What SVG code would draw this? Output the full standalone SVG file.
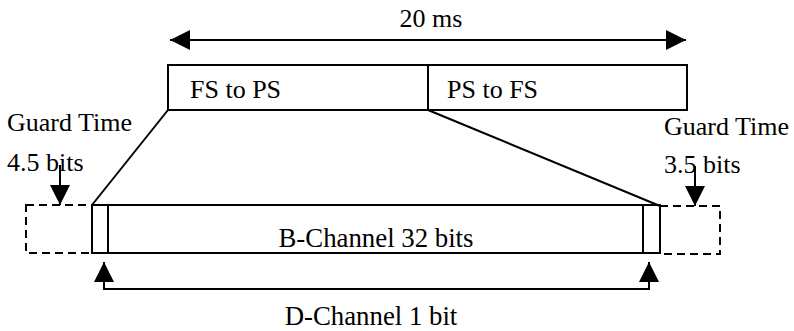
<svg xmlns="http://www.w3.org/2000/svg" width="794" height="331" viewBox="0 0 794 331">
  <style>
    .t { font-family: "Liberation Serif", "Times New Roman", serif; font-size: 26px; fill: #000; }
    .big { font-size: 26.8px; }
    .ln { stroke: #000; stroke-width: 2; fill: none; }
    .box { stroke: #000; stroke-width: 2; fill: #fff; }
    .dash { stroke: #000; stroke-width: 2; fill: none; stroke-dasharray: 8 5; }
  </style>
  <defs>
    <marker id="head" viewBox="0 0 20 20" refX="20" refY="10" markerWidth="20" markerHeight="20" markerUnits="userSpaceOnUse" orient="auto-start-reverse">
      <path d="M0,0 L20,10 L0,20 Z" fill="#000"/>
    </marker>
  </defs>
  <rect width="794" height="331" fill="#fff"/>

  <!-- frame duration -->
  <g id="duration">
    <line class="ln" x1="170" y1="40" x2="686" y2="40" marker-start="url(#head)" marker-end="url(#head)"/>
    <text class="t" x="431" y="27" text-anchor="middle">20 ms</text>
  </g>

  <!-- frame halves -->
  <g id="fs-to-ps">
    <rect class="box" x="168" y="65" width="260" height="45"/>
    <text class="t" x="190" y="98">FS to PS</text>
  </g>
  <g id="ps-to-fs">
    <rect class="box" x="428" y="65" width="259" height="45"/>
    <text class="t" x="447" y="98">PS to FS</text>
  </g>

  <!-- guard time slots -->
  <g id="guard-left">
    <rect class="dash" x="26" y="205" width="66" height="48"/>
    <text class="t" x="7" y="131">Guard Time</text>
    <text class="t" x="7" y="171">4.5 bits</text>
  </g>
  <g id="guard-right">
    <rect class="dash" x="660" y="206" width="60" height="48"/>
    <text class="t" x="664" y="135">Guard Time</text>
    <text class="t" x="664" y="173">3.5 bits</text>
  </g>

  <!-- slot with B and D channels -->
  <g id="b-channel">
    <rect class="box" x="92" y="205" width="568" height="48"/>
    <line class="ln" x1="108" y1="205" x2="108" y2="253"/>
    <line class="ln" x1="643" y1="205" x2="643" y2="253"/>
    <text class="t big" x="376" y="247" text-anchor="middle">B-Channel 32 bits</text>
  </g>
  <g id="d-channel">
    <text class="t big" x="371" y="325" text-anchor="middle">D-Channel 1 bit</text>
  </g>

  <!-- connectors -->
  <g id="connectors">
    <line class="ln" x1="168" y1="110" x2="92" y2="205"/>
    <line class="ln" x1="428" y1="110" x2="660" y2="206"/>
    <line class="ln" x1="60" y1="165" x2="60" y2="205" marker-end="url(#head)"/>
    <line class="ln" x1="695" y1="166" x2="695" y2="206" marker-end="url(#head)"/>
    <polyline class="ln" points="104,262 104,289 649,289 649,262" marker-start="url(#head)" marker-end="url(#head)"/>
  </g>
</svg>
